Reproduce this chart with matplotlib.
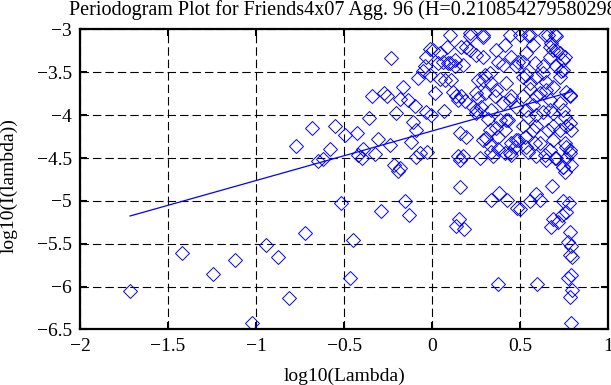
import numpy as np
import matplotlib
matplotlib.use("Agg")
import matplotlib.pyplot as plt

# ============================================================
# DATA
# ============================================================

title_text = "Periodogram Plot for Friends4x07 Agg. 96 (H=0.210854279580298)"

# log10(lambda) of each periodogram point
lam_x = [
    -1.716, -1.42, -1.244, -1.12, -1.023, -0.945, -0.875, -0.815, -0.771, -0.724,
    -0.682, -0.648, -0.62, -0.578, -0.55, -0.516, -0.493, -0.469, -0.45, -0.43,
    -0.42,
    -0.402, -0.393, -0.36, -0.342, -0.327, -0.308, -0.291, -0.276, -0.257, -0.242,
    -0.232, -0.217, -0.204, -0.195, -0.185, -0.181, -0.166, -0.155, -0.138, -0.132,
    -0.119, -0.109, -0.096, -0.09, -0.081, -0.071, -0.053, -0.043, -0.034, -0.032,
    -0.015, -0.011, -0.009, 0.014, 0.032, 0.042, 0.042, 0.065, 0.07, 0.083, 0.089,
    0.099, 0.108, 0.117, 0.127, 0.127, 0.146, 0.146, 0.155, 0.165, 0.165,
    0.184, 0.193, 0.212, 0.212, 0.231, 0.25, 0.25, 0.259, 0.259, 0.269,
    0.278, 0.288, 0.297, 0.297, 0.307, 0.316, 0.326, 0.335, 0.335, 0.335,
    0.354, 0.363, 0.373, 0.373, 0.382, 0.401, 0.401, 0.41, 0.41, 0.41,
    0.429, 0.439, 0.449, 0.449, 0.449, 0.449, 0.468, 0.477, 0.487, 0.496,
    0.133, 0.151, 0.155, 0.18, 0.335, 0.373, 0.378, 0.424, 0.483, 0.496,
    0.553, 0.59, 0.594, 0.613, 0.675, 0.681, 0.685, 0.713, 0.738, 0.741,
    0.757, 0.77, 0.77, 0.774, 0.779, 0.779, 0.783, 0.789, 0.789, 0.789,
    0.795, 0.795,
    0.514, 0.514, 0.524, 0.533, 0.533, 0.543, 0.543, 0.543, 0.553, 0.571,
    0.571, 0.581, 0.581, 0.59, 0.59, 0.609, 0.628, 0.628, 0.637, 0.637,
    0.647, 0.656, 0.666, 0.666, 0.675, 0.685, 0.685, 0.685, 0.694, 0.694,
    0.704, 0.704, 0.723, 0.723, 0.723, 0.741, 0.741, 0.751, 0.751, 0.751,
    0.751, 0.76, 0.76, 0.779, 0.779, 0.779, 0.789,
    0.099, 0.212, 0.288, 0.553, 0.656, 0.704, 0.666, 0.685, 0.723, 0.741,
    0.732, 0.779, 0.59, 0.553, 0.628, 0.647, 0.487, 0.514, 0.42, 0.363,
    0.326, 0.288, 0.25, 0.439, 0.477, 0.533, 0.59, 0.666, 0.741, 0.42,
    0.514, 0.571, 0.685, 0.76, 0.326, 0.373, 0.477, 0.533, 0.609, 0.666,
    0.76, 0.439, 0.59, 0.704, 0.779, 0.741, 0.789, 0.647, 0.345, 0.288,
    0.25, 0.155, 0.174, -0.09, -0.034, 0.137, 0.004, 0.061, 0.174, 0.288,
    0.363, 0.193,
]

# log10(I(lambda)) of each periodogram point
lam_y = [
    -6.05, -5.61, -5.85, -5.69, -6.43, -5.51, -5.66, -6.13, -4.36, -5.37,
    -4.15, -4.54, -4.51, -4.39, -4.13, -5.02, -4.23, -5.90, -5.46, -4.21,
    -4.46,
    -4.50, -4.40, -4.03, -3.78, -4.45, -4.28, -5.12, -3.74, -3.78, -4.35,
    -3.33, -4.58, -3.97, -4.65, -4.62, -3.81, -3.67, -5.0, -3.82, -5.16,
    -4.31, -4.08, -3.89, -4.49, -3.57, -4.44, -3.49, -3.43, -3.32, -4.43,
    -3.23, -3.53, -4.0, -3.74, -3.39, -3.28, -3.58, -3.95, -3.59, -3.20, -3.39,
    -3.39, -3.59, -3.73, -3.36, -3.43, -3.82, -4.48, -4.52, -3.20, -3.78,
    -3.84, -4.25, -3.08, -3.24, -3.90, -3.30, -3.98, -3.59, -3.80, -4.50,
    -3.90, -3.09, -3.53, -3.74, -4.27, -4.04, -4.35, -3.63, -3.94, -4.43,
    -3.78, -4.15, -3.38, -4.39, -4.06, -3.41, -3.86, -3.18, -4.17, -4.44,
    -4.06, -3.06, -3.32, -3.78, -4.33, -4.46, -4.37, -3.43, -4.29, -3.06,
    -5.29, -5.21, -4.84, -5.33, -4.99, -5.97, -4.91, -4.99, -5.08, -5.10,
    -5.0, -4.92, -5.97, -4.99, -5.30, -4.83, -5.21, -5.25, -5.16, -5.0,
    -5.13, -5.48, -5.90, -5.03, -5.36, -5.63, -6.12, -5.53, -5.86, -6.43,
    -5.66, -6.04,
    -3.38, -3.78, -4.25, -3.28, -3.53, -3.06, -4.02, -4.43, -3.69, -3.18,
    -3.88, -3.39, -4.33, -3.55, -4.13, -3.74, -3.43, -3.96, -3.06, -4.46,
    -3.61, -4.17, -3.32, -3.82, -3.16, -3.67, -3.98, -4.29, -3.06, -4.50,
    -3.24, -3.43, -3.55, -3.86, -4.17, -3.47, -4.60, -3.32, -4.02, -4.33,
    -4.66, -3.73, -4.50, -3.78, -4.09, -4.41, -4.17,
    -3.06, -3.04, -3.06, -3.06, -3.06, -3.08, -3.20, -3.24, -3.28, -3.36,
    -3.49, -3.76, -3.78, -3.63, -3.51, -3.71, -3.38, -3.55, -3.63, -3.71,
    -3.51, -3.59, -3.74, -3.82, -3.90, -3.94, -4.00, -3.94, -3.94, -4.06,
    -4.13, -4.17, -4.13, -4.13, -4.17, -4.25, -4.29, -4.37, -4.33, -4.41,
    -4.37, -4.44, -4.48, -4.50, -4.44, -4.60, -4.58, -4.52, -4.48, -4.29,
    -3.94, -4.21, -4.48, -4.17, -3.96, -3.78, -3.24, -3.38, -3.41, -3.32,
    -3.24, -3.20,
]

# fitted regression line (end points)
fit_x = [-1.716, 0.79]
fit_y = [-5.176, -3.726]

x_ticks = [-2, -1.5, -1, -0.5, 0, 0.5, 1]
y_ticks = [-6.5, -6, -5.5, -5, -4.5, -4, -3.5, -3]

# ============================================================
# FIGURE
# ============================================================
plt.rcParams["font.family"] = ["Liberation Serif", "DejaVu Serif"]

fig = plt.figure(figsize=(6.11, 3.85), dpi=100)
ax = fig.add_axes([0.1309, 0.1442, 0.9959 - 0.1309, 0.9234 - 0.1442])

# periodogram points as hollow diamonds
ax.plot(lam_x, lam_y, linestyle="none", marker="D", markersize=7.1,
        markerfacecolor="none", markeredgecolor="#0000ff", markeredgewidth=0.7)

# least squares fit
ax.plot(fit_x, fit_y, color="#0000ff", linewidth=0.9)

# -------------------------------
# Axes, grid and labels
# -------------------------------
ax.set_xlim(-2, 1)
ax.set_ylim(-6.5, -3)
ax.set_xticks(x_ticks)
ax.set_yticks(y_ticks)
ax.set_xticklabels([f"{t:g}".replace("-", "\u2212") for t in x_ticks])
ax.set_yticklabels([f"{t:g}".replace("-", "\u2212") for t in y_ticks])
ax.tick_params(direction="in", length=5, width=1.5, top=True, right=True,
               labelsize=14, pad=6, colors="black")

ax.grid(True, color="black", linestyle=(0, (7.6, 3.6)), linewidth=0.8)
for spine in ax.spines.values():
    spine.set_linewidth(1.6)

ax.set_xlabel("log10(Lambda)", fontsize=14)
ax.set_ylabel("log10(I(lambda))", fontsize=14)
# place the axis labels where the reference has them (axes coords);
# the y label anchor is its right-hand edge on screen
ax.xaxis.set_label_coords(0.5, -0.128)
ax.yaxis.set_label_coords(-0.1173, 0.48)

# title starts left of the axes and runs off the right edge
fig.text(69 / 611, 1 - 15 / 385, title_text, fontsize=14.5, ha="left", va="baseline")

fig.savefig("out.png", dpi=100)
